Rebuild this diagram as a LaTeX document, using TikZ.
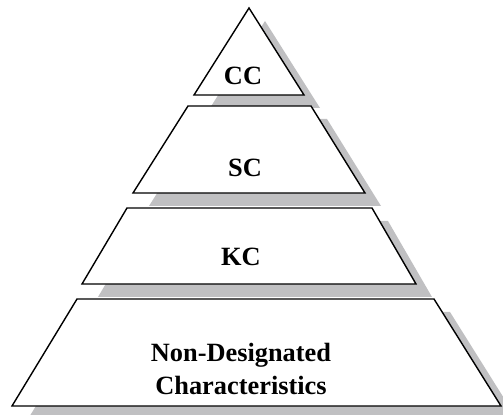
\documentclass[tikz,border=0pt]{standalone}
\usepackage{fontspec}
\setmainfont{Liberation Serif}
\usetikzlibrary{positioning}
\definecolor{shadowgray}{RGB}{192,192,194}
\tikzset{layer/.style={draw, fill=white, line width=0.8pt, line join=miter,
    preaction={fill=shadowgray, transform canvas={xshift=0.32cm, yshift=-0.26cm}}}}
\tikzset{layer label/.style={font=\fontsize{15}{19}\selectfont\bfseries, align=center}}

\begin{document}
\begin{tikzpicture}[x=0.02cm, y=-0.02cm]
    \useasboundingbox (0, 0) rectangle (503, 415);
    \draw[layer] (249, 8) -- (304, 95) -- (194, 95) -- cycle;
    \node[layer label] (cc) at (243, 76) {CC};
    \draw[layer] (188, 106) -- (311, 106) -- (365, 193) -- (133, 193) -- cycle;
    \node[layer label] (sc) at (245, 168) {SC};
    \draw[layer] (127, 208) -- (372, 208) -- (416, 284) -- (82, 284) -- cycle;
    \node[layer label] (kc) at (241, 257) {KC};
    \draw[layer] (77, 299) -- (434, 299) -- (501, 406) -- (12, 406) -- cycle;
    \node[layer label] (nondesignated) at (241, 369) {Non-Designated\\Characteristics};
    
    % \draw[help lines, step=50] (0,0) grid (503,415);
\end{tikzpicture}
\end{document}
